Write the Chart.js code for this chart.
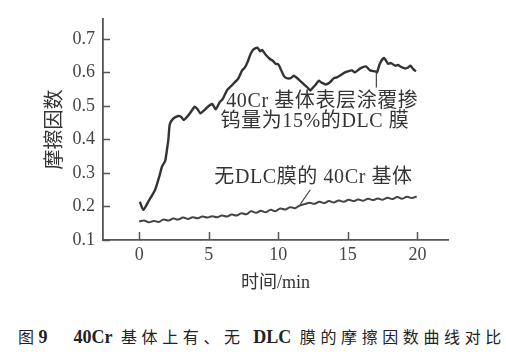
<!DOCTYPE html>
<html><head><meta charset="utf-8">
<script src="https://cdn.jsdelivr.net/npm/chart.js@4.4.1/dist/chart.umd.min.js"></script>
<style>
html,body{margin:0;padding:0;background:#fff;width:506px;height:357px;overflow:hidden;}
#wrap{position:absolute;left:0;top:0;width:506px;height:300px;}
#cap{position:absolute;left:18px;top:324px;font-family:'Liberation Serif','Noto Sans CJK SC',serif;font-size:16px;color:#222;letter-spacing:4.6px;white-space:nowrap;}
#cap b{font-size:18px;letter-spacing:0;}
</style></head>
<body>
<div id="wrap"><canvas id="c"></canvas></div>
<div id="cap">图<b>9</b>&nbsp;&nbsp;&nbsp;<b>40Cr</b> 基体上有、无 <b>DLC</b> 膜的摩擦因数曲线对比</div>
<script>
// ---- data ----
const xTicks = [0, 5, 10, 15, 20];
const yTicks = [0.1, 0.2, 0.3, 0.4, 0.5, 0.6, 0.7];
const dlcTime = [0.05,0.3,0.65,1.15,1.45,1.65,1.87,2.0,2.1,2.2,2.45,2.8,3.0,3.2,3.45,3.65,4.0,4.2,4.4,4.75,5.0,5.25,5.5,5.8,6.0,6.3,6.5,6.7,6.9,7.1,7.4,7.6,7.8,8.0,8.2,8.5,8.7,8.85,9.05,9.4,9.6,9.8,10.0,10.15,10.4,10.6,10.9,11.1,11.3,11.7,11.9,12.1,12.3,12.5,12.7,12.9,13.1,13.4,13.7,14.0,14.2,14.5,14.7,15.0,15.3,15.5,15.9,16.3,16.6,17.0,17.1,17.3,17.6,17.9,18.1,18.4,18.6,18.8,19.1,19.3,19.5,19.7,19.9];
const dlcFriction = [0.214,0.19,0.214,0.25,0.29,0.32,0.336,0.37,0.40,0.445,0.462,0.47,0.468,0.458,0.468,0.478,0.498,0.49,0.478,0.49,0.50,0.506,0.49,0.512,0.52,0.546,0.555,0.563,0.572,0.58,0.606,0.615,0.632,0.654,0.668,0.674,0.663,0.667,0.655,0.64,0.635,0.626,0.624,0.612,0.59,0.583,0.583,0.59,0.585,0.57,0.562,0.555,0.546,0.555,0.564,0.575,0.57,0.564,0.57,0.583,0.585,0.592,0.598,0.603,0.606,0.60,0.612,0.618,0.606,0.603,0.60,0.626,0.643,0.626,0.628,0.62,0.622,0.617,0.612,0.614,0.62,0.61,0.603];
const bareTime = [0.0,0.35,0.7,1.05,1.4,1.75,2.1,2.45,2.8,3.15,3.5,3.85,4.2,4.55,4.9,5.25,5.6,5.95,6.3,6.65,7.0,7.35,7.7,8.05,8.4,8.75,9.1,9.45,9.8,10.15,10.5,10.85,11.2,11.55,11.9,12.25,12.6,12.95,13.3,13.65,14.0,14.35,14.7,15.05,15.4,15.75,16.1,16.45,16.8,17.15,17.5,17.85,18.2,18.55,18.9,19.25,19.6,19.95];
const bareFriction = [0.155,0.158,0.153,0.157,0.154,0.161,0.158,0.164,0.161,0.167,0.163,0.168,0.165,0.170,0.167,0.171,0.168,0.173,0.170,0.176,0.173,0.180,0.177,0.186,0.181,0.187,0.183,0.190,0.186,0.194,0.191,0.198,0.195,0.203,0.207,0.211,0.208,0.214,0.210,0.216,0.212,0.218,0.214,0.220,0.216,0.221,0.217,0.223,0.219,0.224,0.220,0.226,0.222,0.228,0.223,0.229,0.225,0.230];
const labelDlc = ['40Cr 基体表层涂覆掺', '钨量为15%的DLC 膜'];
const labelBare = '无DLC膜的 40Cr 基体';

const serif = "'Liberation Serif','DejaVu Serif',serif";
const mixed = "'Liberation Serif','Noto Sans CJK SC',serif";

const inwardTicks = {
  id: 'inwardTicks',
  afterDraw(chart) {
    const {ctx, scales: {x, y}, chartArea: a} = chart;
    ctx.save();
    ctx.strokeStyle = '#555';
    ctx.lineWidth = 1.5;
    ctx.beginPath();
    yTicks.forEach(v => { const p = Math.round(y.getPixelForValue(v)) + 0.5; ctx.moveTo(a.left, p); ctx.lineTo(a.left + 7, p); });
    xTicks.forEach(v => { const p = Math.round(x.getPixelForValue(v)) + 0.5; ctx.moveTo(p, a.bottom); ctx.lineTo(p, a.bottom - 8); });
    ctx.stroke();
    // annotations
    ctx.fillStyle = '#333';
    ctx.font = '20px ' + mixed;
    ctx.letterSpacing = '0.6px';
    ctx.textBaseline = 'middle';
    ctx.textAlign = 'left';
    ctx.fillText(labelDlc[0], x.getPixelForValue(6.26), y.getPixelForValue(0.512));
    ctx.fillText(labelDlc[1], x.getPixelForValue(5.85), y.getPixelForValue(0.452));
    ctx.fillText(labelBare, x.getPixelForValue(5.4), y.getPixelForValue(0.287));
    ctx.letterSpacing = '0px';
    ctx.strokeStyle = '#444';
    ctx.lineWidth = 1.2;
    ctx.beginPath();
    ctx.moveTo(x.getPixelForValue(17.05), y.getPixelForValue(0.603));
    ctx.lineTo(x.getPixelForValue(17.05), y.getPixelForValue(0.555));
    ctx.moveTo(x.getPixelForValue(12.3), y.getPixelForValue(0.25));
    ctx.lineTo(x.getPixelForValue(11.6), y.getPixelForValue(0.208));
    ctx.stroke();
    ctx.restore();
  }
};

new Chart(document.getElementById('c'), {
  type: 'line',
  data: {
    datasets: [
      { data: dlcTime.map((t, i) => ({x: t, y: dlcFriction[i]})), borderColor: '#333', borderWidth: 2.4, pointRadius: 0, tension: 0.2 },
      { data: bareTime.map((t, i) => ({x: t, y: bareFriction[i]})), borderColor: '#444', borderWidth: 2, pointRadius: 0, tension: 0.4 }
    ]
  },
  options: {
    responsive: true, maintainAspectRatio: false, animation: false,
    layout: { padding: { top: 8, right: 58, left: 0, bottom: 0 } },
    plugins: { legend: { display: false }, tooltip: { enabled: false } },
    scales: {
      x: {
        type: 'linear', min: -2.6, max: 22.2,
        afterBuildTicks: s => { s.ticks = xTicks.map(v => ({value: v})); },
        afterFit: s => { s.height = 60; },
        grid: { drawOnChartArea: false, drawTicks: false },
        border: { display: true, color: '#555', width: 1.8 },
        ticks: { padding: 4, color: '#444', font: { family: serif, size: 18 } },
        title: { display: true, text: '时间/min', color: '#333', font: { family: mixed, size: 18 }, padding: { bottom: 6, top: 0 } }
      },
      y: {
        min: 0.1, max: 0.76,
        afterBuildTicks: s => { s.ticks = yTicks.map(v => ({value: v})); },
        afterFit: s => { s.width = 103; },
        grid: { drawOnChartArea: false, drawTicks: false },
        border: { display: true, color: '#555', width: 1.8 },
        ticks: { padding: 8, color: '#444', font: { family: serif, size: 18 }, callback: v => v.toFixed(1) },
        title: { display: true, text: '摩擦因数', color: '#333', font: { family: mixed, size: 20 }, padding: { top: 44, bottom: 0 } }
      }
    }
  },
  plugins: [inwardTicks]
});
</script>
</body></html>
